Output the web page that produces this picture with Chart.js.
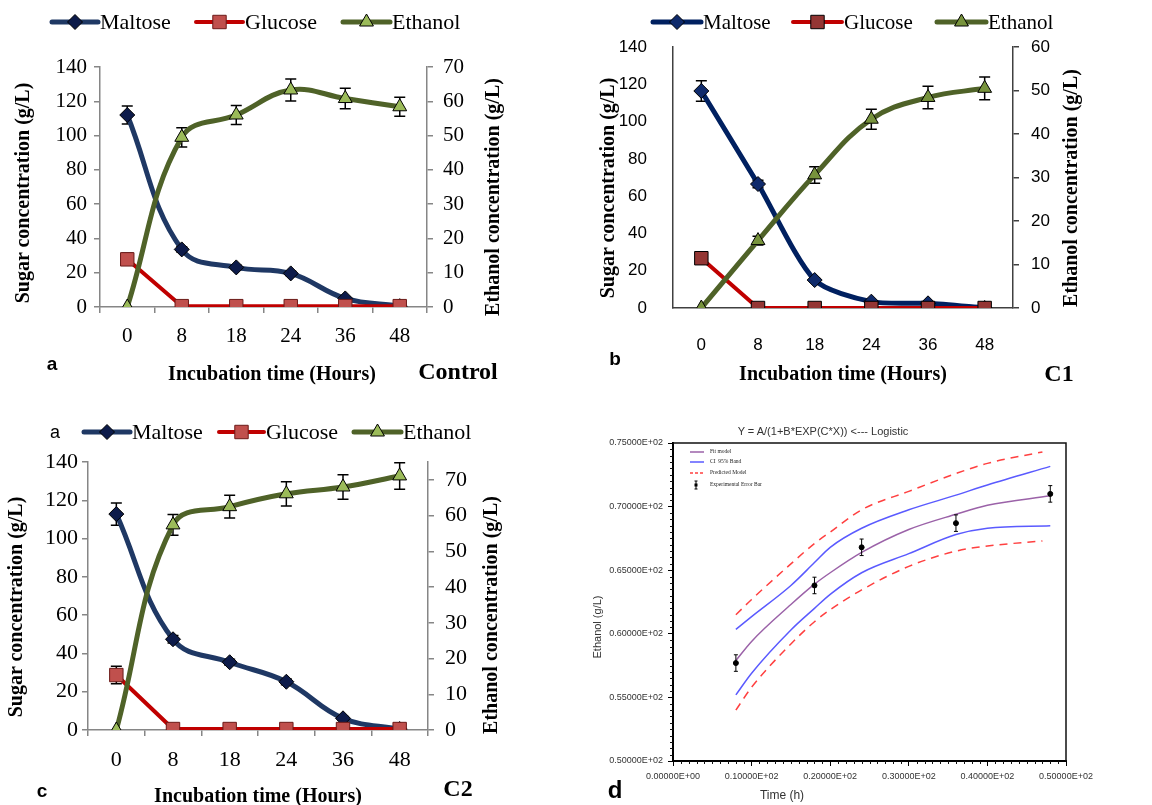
<!DOCTYPE html>
<html>
<head>
<meta charset="utf-8">
<script src="https://cdn.jsdelivr.net/npm/chart.js@4.4.0/dist/chart.umd.min.js"></script>
<style>
  body { margin: 0; background: #fff; width: 1152px; height: 805px; position: relative; overflow: hidden; }
  canvas { position: absolute; }
  .lbl { position: absolute; line-height: 1; white-space: nowrap; color: #000; transform: translate(-50%, -50%); }
  .rot { transform: translate(-50%, -50%) rotate(-90deg); }
  .serifB { font-family: 'Liberation Serif', 'Times New Roman', serif; font-weight: bold; }
  .sans { font-family: 'Liberation Sans', Arial, sans-serif; }
</style>
</head>
<body>
<canvas id="chartA" width="580" height="400" style="left:0;top:0"></canvas>
<canvas id="chartB" width="572" height="400" style="left:580px;top:0"></canvas>
<canvas id="chartC" width="580" height="400" style="left:0;top:405px"></canvas>
<canvas id="chartD" width="572" height="385" style="left:580px;top:420px"></canvas>

<!-- panel a -->
<div class="lbl rot serifB" style="left:22px;top:193px;font-size:20px">Sugar concentration (g/L)</div>
<div class="lbl rot serifB" style="left:492px;top:197px;font-size:20px">Ethanol concentration (g/L)</div>
<div class="lbl serifB" style="left:272px;top:373px;font-size:20px">Incubation time (Hours)</div>
<div class="lbl sans" style="left:52px;top:363px;font-size:19px;font-weight:bold">a</div>
<div class="lbl serifB" style="left:458px;top:371px;font-size:24px">Control</div>
<!-- panel b -->
<div class="lbl rot serifB" style="left:607px;top:188px;font-size:20px">Sugar concentration (g/L)</div>
<div class="lbl rot serifB" style="left:1070px;top:188px;font-size:20px">Ethanol concentration (g/L)</div>
<div class="lbl serifB" style="left:843px;top:373px;font-size:20px">Incubation time (Hours)</div>
<div class="lbl sans" style="left:615px;top:358px;font-size:19px;font-weight:bold">b</div>
<div class="lbl serifB" style="left:1059px;top:373px;font-size:24px">C1</div>
<!-- panel c -->
<div class="lbl sans" style="left:55px;top:432px;font-size:18px">a</div>
<div class="lbl rot serifB" style="left:15px;top:607px;font-size:20px">Sugar concentration (g/L)</div>
<div class="lbl rot serifB" style="left:490px;top:615px;font-size:20px">Ethanol concentration (g/L)</div>
<div class="lbl serifB" style="left:258px;top:795px;font-size:20px">Incubation time (Hours)</div>
<div class="lbl sans" style="left:42px;top:790px;font-size:19px;font-weight:bold">c</div>
<div class="lbl serifB" style="left:458px;top:788px;font-size:24px">C2</div>
<!-- panel d -->
<div class="lbl sans" style="left:823px;top:431px;font-size:11px;color:#333">Y = A/(1+B*EXP(C*X)) &lt;--- Logistic</div>
<div class="lbl rot sans" style="left:597px;top:627px;font-size:11px;color:#333">Ethanol (g/L)</div>
<div class="lbl sans" style="left:782px;top:795px;font-size:12px;color:#333">Time (h)</div>
<div class="lbl sans" style="left:615px;top:790px;font-size:24px;font-weight:bold">d</div>

<script>
// ---- DATA ----
const hours = ['0', '8', '18', '24', '36', '48'];

// a - Control
const ctrlMaltose = [112, 33.6, 23.1, 19.6, 5, 0.5];
const ctrlMaltoseErr = [5.2, 1.5, 1.2, 1.2, 0.8, 0];
const ctrlGlucose = [27.8, 0.5, 0.5, 0.5, 0.5, 0.5];
const ctrlGlucoseErr = [3.5, 0, 0, 0, 0, 0];
const ctrlEthanol = [0, 49.5, 56, 63.3, 60.8, 58.4];
const ctrlEthanolErr = [0, 2.8, 2.8, 3.2, 3, 2.8];

// b - C1
const c1Maltose = [116.4, 66.5, 15, 3.4, 2.5, 0];
const c1MaltoseErr = [5.5, 2, 1, 0, 0, 0];
const c1Glucose = [26.7, 0, 0, 0, 0, 0];
const c1GlucoseErr = [2, 0, 0, 0, 0, 0];
const c1Ethanol = [0, 15.5, 30.6, 43.4, 48.4, 50.5];
const c1EthanolErr = [0, 1, 1.9, 2.3, 2.6, 2.6];

// c - C2
const c2Maltose = [112.8, 47.4, 35.4, 25.2, 6.1, 0.5];
const c2MaltoseErr = [5.8, 2, 1.5, 1.5, 1, 0];
const c2Glucose = [28.7, 0.5, 0.5, 0.5, 0.5, 0.5];
const c2GlucoseErr = [4.6, 0, 0, 0, 0, 0];
const c2Ethanol = [0, 57.4, 62.5, 66.1, 68, 71.1];
const c2EthanolErr = [0, 2.9, 3.2, 3.4, 3.4, 3.7];

// d - logistic fit
const expTime = [8, 18, 24, 36, 48];
const expEthanol = [57.7, 63.8, 66.8, 68.7, 71.0];
const expErr = [0.65, 0.65, 0.65, 0.65, 0.65];
const curveTime = [8, 10, 15, 18, 20, 24, 30, 36, 40, 48];
const fitModel = [57.9, 59.4, 62.3, 63.9, 64.8, 66.4, 68.2, 69.4, 70.1, 70.85];
const ciUpper = [60.35, 61.35, 63.8, 65.6, 66.8, 68.3, 69.75, 70.9, 71.7, 73.16];
const ciLower = [55.2, 56.9, 60.3, 62.0, 63.1, 64.8, 66.3, 67.8, 68.3, 68.5];
const predTime = [8, 10, 15, 18, 20, 24, 30, 36, 40, 47];
const predUpper = [61.5, 62.7, 65.5, 67.1, 68.0, 69.75, 71.2, 72.6, 73.4, 74.3];
const predLower = [54.0, 55.8, 59.2, 60.95, 61.9, 63.45, 65.3, 66.5, 66.9, 67.3];

const SERIF = "'Liberation Serif', 'Times New Roman', serif";
const SANS = "'Liberation Sans', Arial, sans-serif";

// ---- PLUGINS ----
function drawMarker(ctx, style, x, y, r, fill, stroke) {
    ctx.save();
    ctx.fillStyle = fill;
    ctx.strokeStyle = stroke;
    ctx.lineWidth = 1;
    ctx.beginPath();
    if (style === 'rectRot') {
        ctx.moveTo(x, y - r); ctx.lineTo(x + r, y); ctx.lineTo(x, y + r); ctx.lineTo(x - r, y);
    } else if (style === 'rect') {
        const s = r * Math.SQRT1_2;
        ctx.rect(x - s, y - s, 2 * s, 2 * s);
    } else {
        ctx.moveTo(x, y - r);
        ctx.lineTo(x + r * Math.sin(Math.PI * 2 / 3), y - r * Math.cos(Math.PI * 2 / 3));
        ctx.lineTo(x + r * Math.sin(Math.PI * 4 / 3), y - r * Math.cos(Math.PI * 4 / 3));
    }
    ctx.closePath();
    ctx.fill();
    ctx.stroke();
    ctx.restore();
}

// line + marker + text legend, like the Excel one
const lineLegend = {
    id: 'lineLegend',
    afterDraw(chart, args, opts) {
        if (!opts.items) return;
        const ctx = chart.ctx;
        const sets = chart.data.datasets;
        opts.items.forEach((it, i) => {
            const ds = sets[i];
            ctx.save();
            ctx.strokeStyle = ds.borderColor;
            ctx.lineWidth = ds.borderWidth;
            ctx.lineCap = 'round';
            ctx.beginPath();
            ctx.moveTo(it.x0, opts.y);
            ctx.lineTo(it.x1, opts.y);
            ctx.stroke();
            ctx.restore();
            drawMarker(ctx, ds.pointStyle, (it.x0 + it.x1) / 2, opts.y, ds.pointRadius,
                ds.pointBackgroundColor, ds.pointBorderColor);
            ctx.save();
            ctx.fillStyle = '#000';
            ctx.font = opts.font;
            ctx.textBaseline = 'middle';
            ctx.fillText(ds.label, it.x1 + 2, opts.y + 1);
            ctx.restore();
        });
    }
};

const errorBars = {
    id: 'errorBars',
    beforeDatasetsDraw(chart, args, opts) { if (!opts.onTop) drawErr(chart, opts); },
    afterDatasetsDraw(chart, args, opts) { if (opts.onTop) drawErr(chart, opts); }
};

function drawErr(chart, opts) {
    const ctx = chart.ctx;
    chart.data.datasets.forEach((ds, i) => {
        if (!ds.err) return;
        const meta = chart.getDatasetMeta(i);
        const ys = chart.scales[meta.yAxisID];
        ctx.save();
        ctx.strokeStyle = '#000';
        ctx.lineWidth = opts.width || 1.5;
        ds.data.forEach((v, j) => {
            const e = ds.err[j];
            if (!e) return;
            const val = typeof v === 'object' ? v.y : v;
            const x = meta.data[j].x;
            const yt = ys.getPixelForValue(val + e);
            const yb = ys.getPixelForValue(val - e);
            const c = opts.cap || 5;
            ctx.beginPath();
            ctx.moveTo(x, yt); ctx.lineTo(x, yb);
            ctx.moveTo(x - c, yt); ctx.lineTo(x + c, yt);
            ctx.moveTo(x - c, yb); ctx.lineTo(x + c, yb);
            ctx.stroke();
        });
        ctx.restore();
    });
}

// ---- PANELS a, b, c ----
function sugarChart(id, o) {
    const tickFont = { family: o.tickFamily, size: o.tickSize };
    return new Chart(document.getElementById(id), {
        type: 'line',
        data: {
            labels: hours,
            datasets: [
                {
                    label: 'Maltose', data: o.maltose, err: o.maltoseErr, yAxisID: 'y', order: 2,
                    borderColor: o.maltoseLine, borderWidth: 5, tension: o.maltoseTension,
                    pointStyle: 'rectRot', pointRadius: 7.5,
                    pointBackgroundColor: o.maltoseFill, pointBorderColor: '#000', pointBorderWidth: 1
                },
                {
                    label: 'Glucose', data: o.glucose, err: o.glucoseErr, yAxisID: 'y', order: 1,
                    borderColor: '#C00000', borderWidth: 4, tension: 0,
                    pointStyle: 'rect', pointRadius: 9.5,
                    pointBackgroundColor: o.glucoseFill, pointBorderColor: o.glucoseEdge, pointBorderWidth: 1
                },
                {
                    label: 'Ethanol', data: o.ethanol, err: o.ethanolErr, yAxisID: 'y1', order: 0,
                    borderColor: '#4F6228', borderWidth: 5, tension: 0.4,
                    pointStyle: 'triangle', pointRadius: 8,
                    pointBackgroundColor: o.ethanolFill, pointBorderColor: '#000', pointBorderWidth: 1
                }
            ]
        },
        options: {
            responsive: false,
            animation: false,
            layout: { padding: { top: o.top, left: 0, right: 0, bottom: 0 } },
            plugins: {
                legend: { display: false },
                tooltip: { enabled: false },
                lineLegend: { y: o.legendY, items: o.legendItems, font: o.legendFont },
                errorBars: { cap: 5.5, width: 1.5 }
            },
            scales: {
                x: {
                    offset: true,
                    grid: { display: o.xTicks, offset: true, drawOnChartArea: false, tickLength: 6, color: o.axisColor, lineWidth: 1.5 },
                    border: { color: o.axisColor, width: 1.5 },
                    ticks: { font: tickFont, color: '#000', padding: o.xPad, maxRotation: 0 },
                    afterFit: s => { s.height = o.bottom; }
                },
                y: {
                    position: 'left', min: 0, max: 140,
                    grid: { display: o.leftTicks, drawOnChartArea: false, tickLength: 6, color: o.axisColor, lineWidth: 1.5 },
                    border: { color: o.axisColor, width: 1.5 },
                    ticks: { stepSize: 20, font: tickFont, color: '#000', padding: o.leftPad },
                    afterFit: s => { s.width = o.left; }
                },
                y1: {
                    position: 'right', min: 0, max: o.rightMax,
                    grid: { display: true, drawOnChartArea: false, tickLength: 6, color: o.axisColor, lineWidth: 1.5 },
                    border: { color: o.axisColor, width: 1.5 },
                    ticks: { stepSize: 10, includeBounds: false, font: tickFont, color: '#000', padding: o.rightPad },
                    afterFit: s => { s.width = o.right; }
                }
            }
        },
        plugins: [lineLegend, errorBars]
    });
}

sugarChart('chartA', {
    maltose: ctrlMaltose, maltoseErr: ctrlMaltoseErr,
    glucose: ctrlGlucose, glucoseErr: ctrlGlucoseErr,
    ethanol: ctrlEthanol, ethanolErr: ctrlEthanolErr,
    maltoseLine: '#1F3864', maltoseFill: '#0D1B4A', maltoseTension: 0.4,
    glucoseFill: '#C0504D', glucoseEdge: '#6B1A18',
    ethanolFill: '#9BBB59',
    rightMax: 70, axisColor: '#868686', xTicks: true, leftTicks: true,
    tickFamily: SERIF, tickSize: 21,
    top: 67, left: 100, right: 153, bottom: 93,
    xPad: 11, leftPad: 7, rightPad: 10,
    legendY: 22, legendFont: '22px ' + SERIF,
    legendItems: [{ x0: 52, x1: 98 }, { x0: 196, x1: 243 }, { x0: 343, x1: 390 }]
});

sugarChart('chartB', {
    maltose: c1Maltose, maltoseErr: c1MaltoseErr,
    glucose: c1Glucose, glucoseErr: c1GlucoseErr,
    ethanol: c1Ethanol, ethanolErr: c1EthanolErr,
    maltoseLine: '#002060', maltoseFill: '#0F2A6B', maltoseTension: 0.25,
    glucoseFill: '#943634', glucoseEdge: '#000',
    ethanolFill: '#77933C',
    rightMax: 60, axisColor: '#404040', xTicks: false, leftTicks: false,
    tickFamily: SANS, tickSize: 17,
    top: 47, left: 93, right: 139, bottom: 92,
    xPad: 21, leftPad: 20, rightPad: 12,
    legendY: 22, legendFont: '21px ' + SERIF,
    legendItems: [{ x0: 73, x1: 121 }, { x0: 213, x1: 262 }, { x0: 357, x1: 406 }]
});

sugarChart('chartC', {
    maltose: c2Maltose, maltoseErr: c2MaltoseErr,
    glucose: c2Glucose, glucoseErr: c2GlucoseErr,
    ethanol: c2Ethanol, ethanolErr: c2EthanolErr,
    maltoseLine: '#1F3864', maltoseFill: '#0D1B4A', maltoseTension: 0.4,
    glucoseFill: '#C0504D', glucoseEdge: '#6B1A18',
    ethanolFill: '#9BBB59',
    rightMax: 75, axisColor: '#868686', xTicks: true, leftTicks: true,
    tickFamily: SERIF, tickSize: 22,
    top: 57, left: 88, right: 152, bottom: 75,
    xPad: 11, leftPad: 4, rightPad: 11,
    legendY: 27, legendFont: '22px ' + SERIF,
    legendItems: [{ x0: 84, x1: 130 }, { x0: 219, x1: 264 }, { x0: 354, x1: 401 }]
});

// ---- PANEL d ----
function sci(v) {
    if (v === 0) return '0.00000E+00';
    const e = Math.floor(Math.log10(Math.abs(v))) + 1;
    const m = v / Math.pow(10, e);
    return m.toFixed(5) + 'E' + (e >= 0 ? '+' : '-') + String(Math.abs(e)).padStart(2, '0');
}
const pts = (xs, ys) => xs.map((x, i) => ({ x, y: ys[i] }));

const dLegend = {
    id: 'dLegend',
    afterDraw(chart) {
        const ctx = chart.ctx;
        const rows = [
            { y: 32, color: '#9B62A8', dash: [], text: 'Fit model' },
            { y: 42, color: '#5A5AFF', dash: [], text: 'CI  95% Band' },
            { y: 53, color: '#FF4040', dash: [3, 2], text: 'Predicted Model' },
            { y: 65, color: null, text: 'Experimental Error Bar' }
        ];
        ctx.save();
        ctx.font = '5.5px ' + SERIF;
        ctx.textBaseline = 'middle';
        rows.forEach(r => {
            if (r.color) {
                ctx.strokeStyle = r.color;
                ctx.lineWidth = 1.5;
                ctx.setLineDash(r.dash);
                ctx.beginPath(); ctx.moveTo(110, r.y); ctx.lineTo(124, r.y); ctx.stroke();
                ctx.setLineDash([]);
            } else {
                ctx.strokeStyle = '#000'; ctx.fillStyle = '#000'; ctx.lineWidth = 1;
                ctx.beginPath();
                ctx.moveTo(116, r.y - 4); ctx.lineTo(116, r.y + 4);
                ctx.moveTo(114.5, r.y - 4); ctx.lineTo(117.5, r.y - 4);
                ctx.moveTo(114.5, r.y + 4); ctx.lineTo(117.5, r.y + 4);
                ctx.stroke();
                ctx.fillRect(114.5, r.y - 1.5, 3, 3);
            }
            ctx.fillStyle = '#222';
            ctx.fillText(r.text, 130, r.y);
        });
        ctx.restore();
    }
};

const dFrame = {
    id: 'dFrame',
    afterDraw(chart) {
        const { ctx, chartArea: a, scales: { x, y } } = chart;
        ctx.save();
        ctx.strokeStyle = '#111';
        ctx.lineWidth = 1.5;
        ctx.beginPath();
        ctx.moveTo(a.left, a.top); ctx.lineTo(a.right, a.top); ctx.lineTo(a.right, a.bottom);
        ctx.stroke();
        // minor ticks
        ctx.lineWidth = 1;
        ctx.beginPath();
        for (let t = 1; t < 50; t++) {
            if (t % 10 === 0) continue;
            const px = Math.round(x.getPixelForValue(t)) + 0.5;
            ctx.moveTo(px, a.bottom); ctx.lineTo(px, a.bottom + 3);
        }
        for (let t = 50.5; t < 75; t += 0.5) {
            if (t % 5 === 0) continue;
            const py = Math.round(y.getPixelForValue(t)) + 0.5;
            ctx.moveTo(a.left, py); ctx.lineTo(a.left - 3, py);
        }
        ctx.stroke();
        ctx.restore();
    }
};

const curve = (label, data, color, dash) => ({
    label, data, showLine: true, borderColor: color, borderWidth: 1.5, borderDash: dash,
    pointRadius: 0, cubicInterpolationMode: 'monotone', fill: false
});

new Chart(document.getElementById('chartD'), {
    type: 'scatter',
    data: {
        datasets: [
            {
                label: 'Experimental Error Bar', data: pts(expTime, expEthanol), err: expErr,
                pointRadius: 2.5, pointBackgroundColor: '#000', pointBorderColor: '#000', showLine: false
            },
            curve('Fit model', pts(curveTime, fitModel), '#9B62A8', []),
            curve('CI 95% Band', pts(curveTime, ciUpper), '#5A5AFF', []),
            curve('CI 95% Band', pts(curveTime, ciLower), '#5A5AFF', []),
            curve('Predicted Model', pts(predTime, predUpper), '#FF4040', [8, 6]),
            curve('Predicted Model', pts(predTime, predLower), '#FF4040', [8, 6])
        ]
    },
    options: {
        responsive: false,
        animation: false,
        layout: { padding: { top: 23, right: 86, left: 0, bottom: 0 } },
        plugins: {
            legend: { display: false },
            tooltip: { enabled: false },
            errorBars: { onTop: true, cap: 2, width: 1 }
        },
        scales: {
            x: {
                type: 'linear', min: 0, max: 50,
                grid: { drawOnChartArea: false, tickLength: 5, color: '#000' },
                border: { color: '#000', width: 2 },
                ticks: { stepSize: 10, callback: v => sci(v), font: { family: SANS, size: 9 }, color: '#333', padding: 5, maxRotation: 0 },
                afterFit: s => { s.height = 44; }
            },
            y: {
                min: 50, max: 75,
                grid: { drawOnChartArea: false, tickLength: 5, color: '#000' },
                border: { color: '#000', width: 2 },
                ticks: { stepSize: 5, callback: v => sci(v), font: { family: SANS, size: 9 }, color: '#333', padding: 5 },
                afterFit: s => { s.width = 93; }
            }
        }
    },
    plugins: [errorBars, dLegend, dFrame]
});
</script>
</body>
</html>
